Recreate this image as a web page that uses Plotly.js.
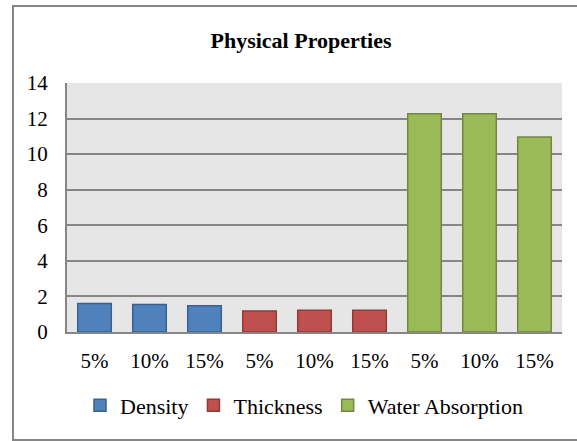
<!DOCTYPE html>
<html>
<head>
<meta charset="utf-8">
<script src="https://cdn.plot.ly/plotly-3.0.1.min.js"></script>
<style>
html,body{margin:0;padding:0;background:#fff;overflow:hidden;}
#wrap{position:relative;width:577px;height:441px;overflow:hidden;}
#chart{position:absolute;left:0;top:0;width:577px;height:441px;}
#frame{position:absolute;left:12px;top:5px;width:700px;height:432px;border:2px solid #868686;pointer-events:none;}
</style>
</head>
<body>
<div id="wrap">
<div id="chart"></div>
<div id="frame"></div>
</div>
<script>
var categories = ['5%', '10%', '15%'];
var seriesNames = ['Density', 'Thickness', 'Water Absorption'];
var density = [1.60, 1.54, 1.47];
var thickness = [1.18, 1.22, 1.22];
var waterAbsorption = [12.27, 12.27, 10.96];
var yTicks = [0, 2, 4, 6, 8, 10, 12, 14];

var fills = ['#4F81BD', '#C0504D', '#9BBB59'];
var borders = ['#3A6190', '#913A38', '#71893F'];
var allSeries = [density, thickness, waterAbsorption];

var traces = allSeries.map(function (vals, g) {
  return {
    type: 'bar',
    name: seriesNames[g],
    x: vals.map(function (v, i) { return g * categories.length + i; }),
    y: vals,
    marker: { color: fills[g], line: { color: borders[g], width: 1.5 } },
    hoverinfo: 'skip'
  };
});

var tickvals = [], ticktext = [];
allSeries.forEach(function (vals, g) {
  categories.forEach(function (c, i) {
    tickvals.push(g * categories.length + i);
    ticktext.push(c);
  });
});

var font = '"Liberation Serif", "Times New Roman", serif';
var L = 67, R = 562, T = 83.3, B = 331.7;
var W = 577, H = 441;

var layout = {
  width: W, height: H,
  margin: { l: L, r: W - R, t: T, b: H - B, pad: 0 },
  paper_bgcolor: 'rgba(0,0,0,0)',
  plot_bgcolor: '#E6E6E6',
  font: { family: font, size: 21, color: '#000' },
  title: {
    text: '<b>Physical Properties</b>',
    font: { family: font, size: 22, color: '#000' },
    xref: 'container', yref: 'container',
    x: 301 / W, xanchor: 'center',
    y: 1 - 40 / H, yanchor: 'middle'
  },
  barmode: 'overlay',
  bargap: 0.39,
  showlegend: true,
  legend: {
    orientation: 'h',
    xref: 'container', yref: 'container',
    x: 304 / W, xanchor: 'center',
    y: 1 - 405.5 / H, yanchor: 'middle',
    font: { family: font, size: 22, color: '#000' },
    bgcolor: 'rgba(0,0,0,0)',
    itemclick: false, itemdoubleclick: false,
    traceorder: 'normal'
  },
  xaxis: {
    range: [-0.5, 8.5],
    tickmode: 'array', tickvals: tickvals, ticktext: ticktext,
    showgrid: false, zeroline: false,
    showline: true, linecolor: '#868686', linewidth: 2,
    ticks: '', ticklabelstandoff: 9,
    tickfont: { family: font, size: 21, color: '#000' },
    fixedrange: true
  },
  yaxis: {
    range: [0, 14],
    tickmode: 'array', tickvals: yTicks,
    showgrid: true, gridcolor: '#868686', gridwidth: 2,
    zeroline: false,
    showline: true, linecolor: '#868686', linewidth: 2,
    ticks: '', ticklabelstandoff: 13,
    tickfont: { family: font, size: 21, color: '#000' },
    fixedrange: true
  }
};

Plotly.newPlot('chart', traces, layout, { displayModeBar: false, staticPlot: true });
</script>
</body>
</html>
